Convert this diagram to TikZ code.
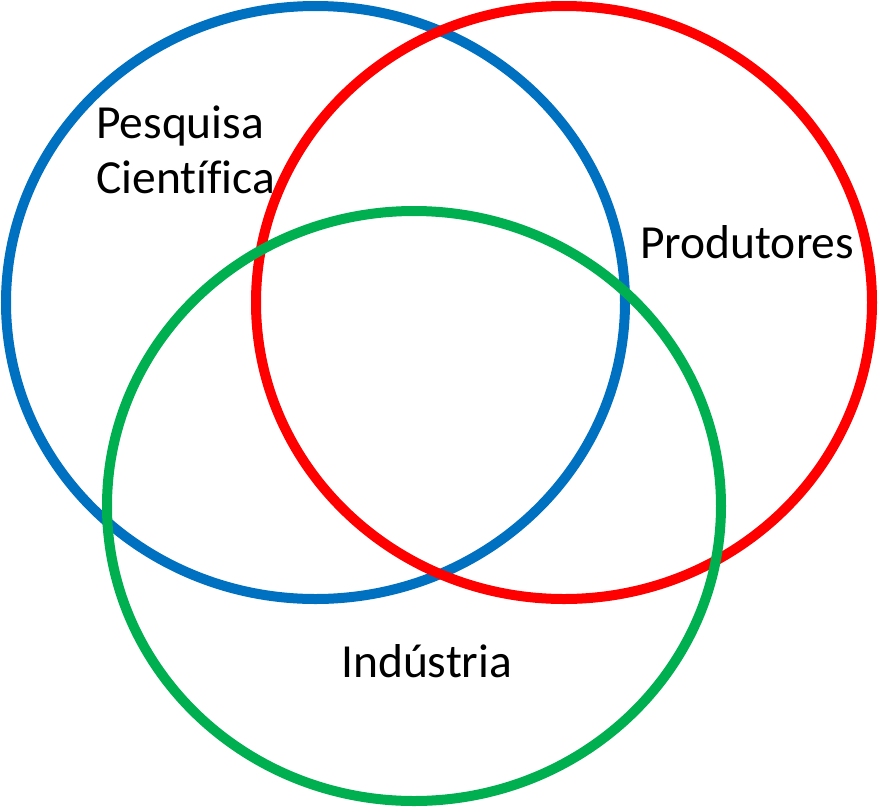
\documentclass[tikz,border=0pt]{standalone}
\usepackage{fontspec}
\setmainfont{Carlito}[Ligatures=NoCommon]
\usetikzlibrary{shapes.geometric}
\definecolor{vblue}{HTML}{0070C0}
\definecolor{vred}{HTML}{FF0000}
\definecolor{vgreen}{HTML}{00B050}
\begin{document}
\begin{tikzpicture}[x=1pt,y=1pt,
  ring/.style={ellipse, draw=#1, line width=10pt, inner sep=0pt, fill=none},
  lbl/.style={anchor=base west, inner sep=0pt, font=\fontsize{47.5}{55}\selectfont, align=left}]
\useasboundingbox (0,0) rectangle (879,-807);
\node[ring=vblue, minimum width=619pt, minimum height=593pt] (blue) at (315.5,-302.5) {};
\node[ring=vred, minimum width=616pt, minimum height=593pt] (red) at (564,-302.5) {};
\node[ring=vgreen, minimum width=614pt, minimum height=590pt] (green) at (414,-506) {};
\node[lbl] (pesq) at (96,-193) {Pesquisa\\Científica};
\node[lbl] (prod) at (640,-258) {Produtores};
\node[lbl] (ind) at (341,-677) {Indústria};
\end{tikzpicture}
\end{document}
